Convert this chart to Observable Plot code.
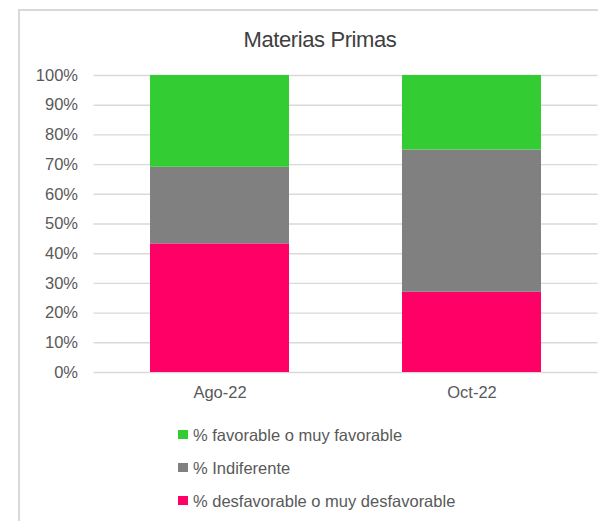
<!DOCTYPE html>
<html>
<head>
<meta charset="utf-8">
<script src="https://cdn.jsdelivr.net/npm/d3@7"></script>
<script src="https://cdn.jsdelivr.net/npm/@observablehq/plot@0.6"></script>
<style>
  html, body { margin: 0; padding: 0; background: #fff; }
  #chart { position: relative; width: 598px; height: 521px; overflow: hidden; font-family: "Liberation Sans", Arial, sans-serif; }
  #frame { position: absolute; left: 18px; top: 9px; width: 640px; height: 560px; border: 2px solid #d9d9d9; box-sizing: border-box; }
  #title { position: absolute; top: 27px; left: 200px; width: 240px; text-align: center; font-size: 22px; letter-spacing: -0.4px; color: #404040; }
  #plot { position: absolute; left: 0; top: 0; }
  #legend { position: absolute; left: 178px; top: 423px; font-size: 16.5px; color: #595959; }
  .item { position: relative; height: 33px; line-height: 24px; padding-left: 15px; white-space: nowrap; }
  .swatch { position: absolute; left: 0; top: 7px; width: 10px; height: 9px; }
</style>
</head>
<body>
<div id="chart">
  <div id="frame"></div>
  <div id="title">Materias Primas</div>
  <div id="plot"></div>
  <div id="legend"></div>
</div>
<script>
// Periods on the category axis
const periods = ["Ago-22", "Oct-22"];
// Response categories, stacked bottom to top
const categories = ["% desfavorable o muy desfavorable", "% Indiferente", "% favorable o muy favorable"];
const colors = ["#ff0066", "#808080", "#33cc33"];
// Shares per period (fractions of 1)
const desfavorable = [0.433, 0.270];
const indiferente = [0.258, 0.479];
const favorable = [0.309, 0.251];
const yTicks = [0, 0.1, 0.2, 0.3, 0.4, 0.5, 0.6, 0.7, 0.8, 0.9, 1];

const series = [desfavorable, indiferente, favorable];
const rows = [];
periods.forEach((p, i) => {
  categories.forEach((c, j) => rows.push({period: p, category: c, value: series[j][i]}));
});

const chart = Plot.plot({
  width: 598,
  height: 410,
  marginLeft: 93.5,
  marginRight: 0.5,
  marginTop: 75,
  marginBottom: 38,
  style: {fontFamily: "Liberation Sans, Arial, sans-serif", fontSize: "16.5px", color: "#595959", background: "transparent"},
  x: {domain: periods, paddingInner: 0.45, paddingOuter: 0.225, label: null, tickSize: 0, tickPadding: 14},
  y: {domain: [0, 1], ticks: yTicks, tickFormat: d3.format(".0%"), label: null, tickSize: 0, tickPadding: 16},
  color: {domain: categories, range: colors},
  marks: [
    Plot.gridY(yTicks, {stroke: "#d9d9d9", strokeOpacity: 1, strokeWidth: 1.4}),
    Plot.barY(rows, {x: "period", y: "value", fill: "category", order: null}),
    Plot.axisX({tickSize: 0, tickPadding: 14, fontSize: 16.5}),
    Plot.axisY({ticks: yTicks, tickFormat: d3.format(".0%"), tickSize: 0, tickPadding: 16, fontSize: 16.5})
  ]
});
document.getElementById("plot").appendChild(chart);

// Legend, top to bottom in reverse stacking order
const legend = document.getElementById("legend");
[2, 1, 0].forEach(j => {
  const item = document.createElement("div");
  item.className = "item";
  const sw = document.createElement("span");
  sw.className = "swatch";
  sw.style.background = colors[j];
  item.appendChild(sw);
  item.appendChild(document.createTextNode(categories[j]));
  legend.appendChild(item);
});
</script>
</body>
</html>
